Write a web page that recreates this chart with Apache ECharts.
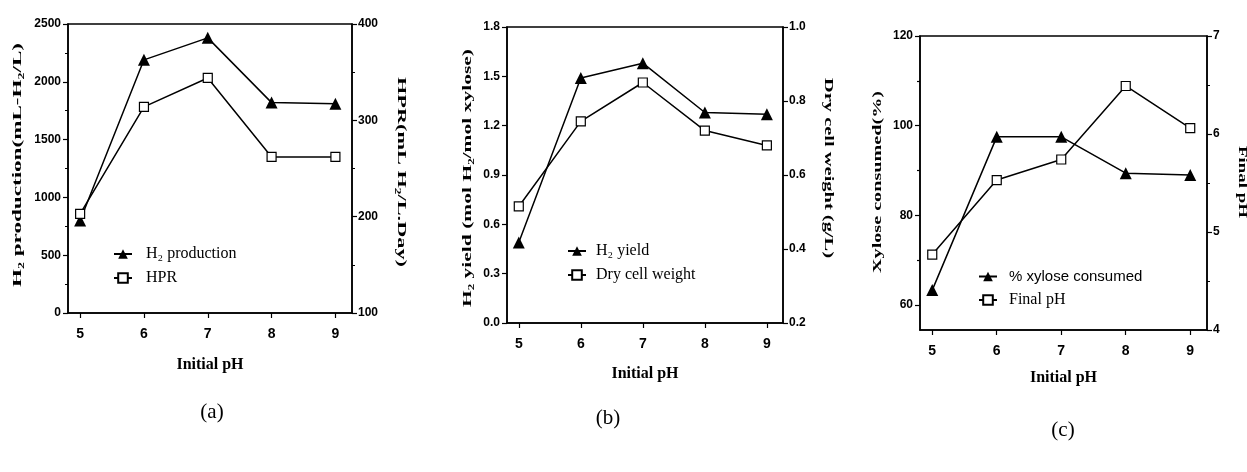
<!DOCTYPE html>
<html><head><meta charset="utf-8">
<script src="https://cdn.jsdelivr.net/npm/echarts@6/dist/echarts.min.js"></script>
<style>html,body{margin:0;padding:0;background:#fff}#c{width:1247px;height:472px}</style>
</head><body><div id="c"></div>
<script>
// ---- data ----
const initialPH = [5, 6, 7, 8, 9];
const xTickValues = [5, 6, 7, 8, 9];
const h2Production = [800, 2190, 2380, 1820, 1810];      // mL-H2/L
const hpr = [203, 314, 344, 262, 262];                    // mL H2/L.Day
const h2Yield = [0.49, 1.49, 1.58, 1.28, 1.27];          // mol H2/mol xylose
const dryCellWeight = [0.515, 0.745, 0.85, 0.72, 0.68];  // g/L
const xyloseConsumed = [63.3, 97.5, 97.5, 89.4, 89.0];   // %
const finalPH = [4.77, 5.53, 5.74, 6.49, 6.06];
const yTicksLeftA = [0, 500, 1000, 1500, 2000, 2500];
const yTicksRightA = [100, 200, 300, 400];
const yTicksLeftB = [0, 0.3, 0.6, 0.9, 1.2, 1.5, 1.8];
const yTicksRightB = [0.2, 0.4, 0.6, 0.8, 1.0];
const yTicksLeftC = [60, 80, 100, 120];
const yMinorLeftC = [70, 90, 110];
const yTicksRightC = [4, 5, 6, 7];

const serif = '"Liberation Serif","Times New Roman","DejaVu Serif",serif';
const sans = '"Liberation Sans","Arial",sans-serif';
const tickFont = '"Liberation Sans Narrow","Arial Narrow","Liberation Sans",sans-serif';

const chart = echarts.init(document.getElementById('c'), null, {renderer: 'canvas'});

const grids = [
  {left: 68, top: 24, width: 284, height: 289},
  {left: 507, top: 27, width: 276, height: 296},
  {left: 920, top: 36, width: 287, height: 294}
].map(g => Object.assign(g, {show: true, borderColor: '#000', borderWidth: 1.5, backgroundColor: 'transparent'}));

function xAxis(gi, gap) {
  return {
    type: 'value', gridIndex: gi, min: 4.81, max: 9.26, position: 'bottom',
    name: 'Initial pH', nameLocation: 'middle', nameGap: gap,
    nameTextStyle: {fontFamily: serif, fontWeight: 'bold', fontSize: 16, color: '#000'},
    axisLine: {show: true, onZero: false, lineStyle: {color: '#000', width: 1.5}},
    axisTick: {show: true, inside: false, length: 5, customValues: xTickValues, lineStyle: {color: '#000', width: 1.2}},
    axisLabel: {show: true, customValues: xTickValues, margin: 14, color: '#000', fontFamily: tickFont, fontWeight: 'bold', fontSize: 14},
    splitLine: {show: false}
  };
}
function yAxis(gi, pos, o) {
  const base = {
    type: 'value', gridIndex: gi, position: pos,
    axisLine: {show: true, onZero: false, lineStyle: {color: '#000', width: 1.5}},
    axisTick: {show: true, inside: false, length: 5, lineStyle: {color: '#000', width: 1.2}},
    axisLabel: {show: true, margin: 7, color: '#000', fontFamily: tickFont, fontWeight: 'bold', fontSize: 12,
      formatter: v => String(v)},
    splitLine: {show: false}
  };
  return echarts.util.merge(base, o, true);
}

const yAxes = [
  yAxis(0, 'left', {min: yTicksLeftA[0], max: yTicksLeftA[yTicksLeftA.length - 1], interval: 500,
    axisLabel: {customValues: yTicksLeftA},
    minorTick: {show: true, splitNumber: 2, length: 3, lineStyle: {color: '#000'}}}),
  yAxis(0, 'right', {min: yTicksRightA[0], max: yTicksRightA[yTicksRightA.length - 1], interval: 100, axisLabel: {margin: 6, customValues: yTicksRightA},
    minorTick: {show: true, splitNumber: 2, length: 3, lineStyle: {color: '#000'}}}),
  yAxis(1, 'left', {min: 0, max: 1.8, interval: 0.3, axisLabel: {customValues: yTicksLeftB, formatter: v => v.toFixed(1)}}),
  yAxis(1, 'right', {min: 0.2, max: 1.0, interval: 0.2, axisLabel: {margin: 6, customValues: yTicksRightB, formatter: v => v.toFixed(1)}}),
  yAxis(2, 'left', {min: 54.4, max: 120, axisTick: {customValues: yTicksLeftC}, axisLabel: {customValues: yTicksLeftC}}),
  yAxis(2, 'right', {min: 4, max: 7, interval: 1, axisLabel: {margin: 6, customValues: yTicksRightC},
    minorTick: {show: true, splitNumber: 2, length: 3, lineStyle: {color: '#000'}}}),
  // minor ticks overlay for panel (c) left axis
  yAxis(2, 'left', {min: 54.4, max: 120, axisLine: {show: false},
    axisTick: {customValues: yMinorLeftC, length: 3}, axisLabel: {show: false}})
];

function pts(arr) { return initialPH.map((x, i) => [x, arr[i]]); }
const lineStyle = {color: '#000', width: 1.5};
function triSeries(name, xi, yi, arr) {
  return {type: 'line', name, xAxisIndex: xi, yAxisIndex: yi, data: pts(arr),
    symbol: 'triangle', symbolSize: 12, itemStyle: {color: '#000'}, lineStyle, z: 3};
}
function sqSeries(name, xi, yi, arr) {
  return {type: 'line', name, xAxisIndex: xi, yAxisIndex: yi, data: pts(arr),
    symbol: 'rect', symbolSize: 9, itemStyle: {color: '#fff', borderColor: '#000', borderWidth: 1.2}, lineStyle, z: 4};
}

const series = [
  triSeries('H₂ production', 0, 0, h2Production),
  sqSeries('HPR', 0, 1, hpr),
  triSeries('H₂ yield', 1, 2, h2Yield),
  sqSeries('Dry cell weight', 1, 3, dryCellWeight),
  triSeries('% xylose consumed', 2, 4, xyloseConsumed),
  sqSeries('Final pH', 2, 5, finalPH)
];

function legend(names, left, top, pad, styles) {
  return {
    orient: 'vertical', left, top, itemWidth: 18, itemHeight: 12, itemGap: 8, selectedMode: false,
    data: names.map((n, i) => ({name: n, textStyle: styles[i]})),
    textStyle: {color: '#000', fontFamily: serif, fontSize: 16, padding: [0, 0, 0, pad]}
  };
}
const serifT = {fontFamily: serif, fontSize: 16, color: '#000'};
const sansT = {fontFamily: sans, fontSize: 15, color: '#000'};

// measure helper for stretched rotated titles
const mctx = document.createElement('canvas').getContext('2d');
function vtext(text, cx, cy, len, rot, size) {
  const font = 'bold ' + size + 'px ' + serif;
  mctx.font = font;
  const w = mctx.measureText(text).width || 1;
  return {type: 'text', x: cx, y: cy, rotation: rot, scaleX: len / w, silent: true,
    style: {text, font, fill: '#000', align: 'center', verticalAlign: 'middle', textAlign: 'center', textVerticalAlign: 'middle'}};
}
function ptext(text, cx, cy) {
  return {type: 'text', x: cx, y: cy, silent: true,
    style: {text, font: '21px ' + serif, fill: '#000', align: 'center', verticalAlign: 'middle', textAlign: 'center', textVerticalAlign: 'middle'}};
}
const up = Math.PI / 2, down = -Math.PI / 2;

chart.setOption({
  animation: false,
  backgroundColor: '#fff',
  grid: grids,
  xAxis: [xAxis(0, 44), xAxis(1, 43), xAxis(2, 40)],
  yAxis: yAxes,
  series,
  legend: [
    legend(['H₂ production', 'HPR'], 108, 241, 9, [serifT, serifT]),
    legend(['H₂ yield', 'Dry cell weight'], 562, 238, 5, [serifT, serifT]),
    legend(['% xylose consumed', 'Final pH'], 973, 264, 7, [sansT, serifT])
  ],
  graphic: [
    vtext('H₂ production(mL-H₂/L)', 18, 165, 244, up, 13),
    vtext('HPR(mL H₂/L.Day)', 401, 172, 190, down, 13),
    vtext('H₂ yield (mol H₂/mol xylose)', 468, 178, 258, up, 13),
    vtext('Dry cell weight (g/L)', 828, 168, 180, down, 13),
    vtext('Xylose consumed(%)', 878, 182, 182, up, 13),
    vtext('Final pH', 1242, 182, 72, down, 13),
    ptext('(a)', 212, 412),
    ptext('(b)', 608, 418),
    ptext('(c)', 1063, 430)
  ]
});
</script></body></html>
